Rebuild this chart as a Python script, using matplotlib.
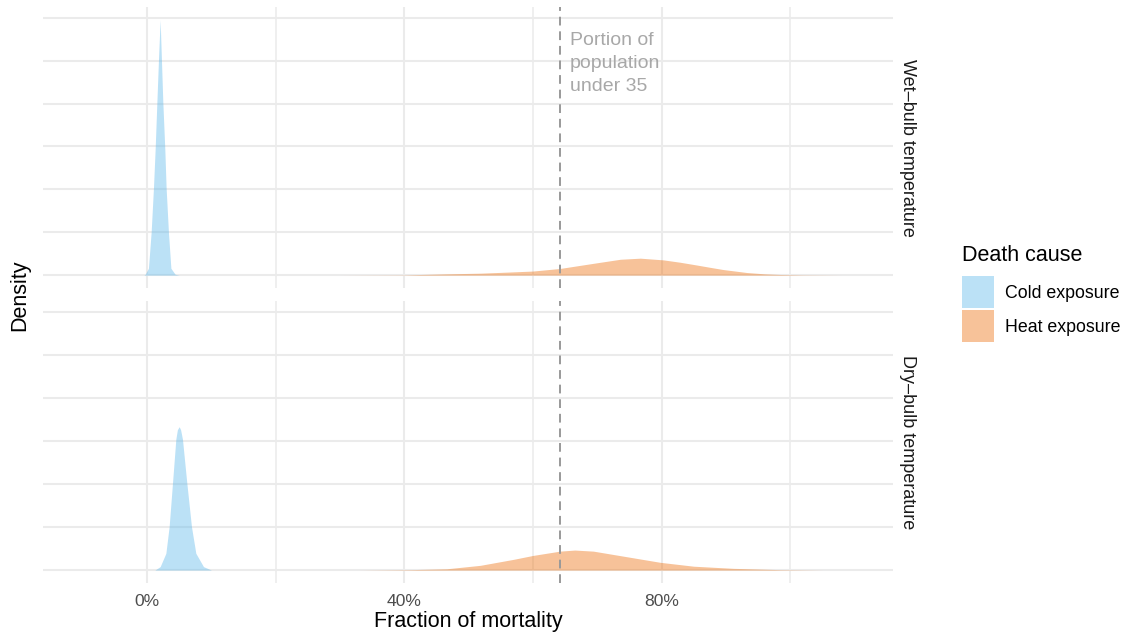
import matplotlib
matplotlib.use('Agg')
import matplotlib.pyplot as plt
from matplotlib.patches import Rectangle
import numpy as np

plt.rcParams['font.family'] = ['Liberation Sans', 'DejaVu Sans']

# density curves, x as fraction of mortality, y as density
wet_cold_x = [-0.005, -0.003, 0.002, 0.0062, 0.0098, 0.0124, 0.0151, 0.0176, 0.0202,
              0.0222, 0.0244, 0.0275, 0.0295, 0.0331, 0.0369, 0.0435, 0.05]
wet_cold_y = [0, 0.2, 1.6, 10.0, 20.3, 29.2, 40.2, 50.2, 59.5,
              50.2, 40.2, 29.2, 20.3, 10.0, 1.6, 0.2, 0]
wet_heat_x = [0.30, 0.40, 0.466, 0.518, 0.560, 0.600, 0.642, 0.694, 0.736, 0.767,
              0.803, 0.829, 0.855, 0.880, 0.896, 0.933, 0.960, 0.984, 1.02, 1.08]
wet_heat_y = [0, 0.05, 0.3, 0.45, 0.7, 0.95, 1.55, 2.75, 3.7, 3.95,
              3.55, 3.0, 2.35, 1.7, 1.3, 0.6, 0.3, 0.15, 0.05, 0]

dry_cold_x = [0.012, 0.0202, 0.0291, 0.0342, 0.0394, 0.0446, 0.047, 0.0498, 0.052,
              0.0549, 0.0617, 0.0689, 0.0757, 0.0876, 0.10]
dry_cold_y = [0, 0.8, 3.9, 10.1, 20.2, 30.4, 32.6, 33.3, 32.6,
              30.4, 20.2, 10.1, 3.9, 0.8, 0]
dry_heat_x = [0.33, 0.41, 0.466, 0.518, 0.570, 0.600, 0.642, 0.665, 0.694,
              0.746, 0.798, 0.850, 0.912, 0.984, 1.05]
dry_heat_y = [0, 0.1, 0.3, 1.1, 2.5, 3.4, 4.4, 4.65, 4.4,
              3.1, 1.8, 0.9, 0.4, 0.1, 0]

under_35 = 0.642
facets = ['Wet–bulb temperature', 'Dry–bulb temperature']
causes = ['Cold exposure', 'Heat exposure']
x_breaks = [0, 0.4, 0.8]
x_minor = [0.2, 0.6, 1.0]
y_breaks = [0, 10, 20, 30, 40, 50, 60]

cold_col = '#56B4E9'
heat_col = '#EC6800'
grid_col = '#EBEBEB'

W, H = 1125, 637
fig = plt.figure(figsize=(W / 100, H / 100), dpi=100)

def px_axes(left, top, right, bottom):
    return fig.add_axes([left / W, 1 - bottom / H, (right - left) / W, (bottom - top) / H])

ax1 = px_axes(43, 7, 893, 288)
ax2 = px_axes(43, 301, 893, 583)

panels = [(ax1, wet_cold_x, wet_cold_y, wet_heat_x, wet_heat_y),
          (ax2, dry_cold_x, dry_cold_y, dry_heat_x, dry_heat_y)]

for i, (ax, cx, cy, hx, hy) in enumerate(panels):
    ax.fill_between(cx, cy, 0, color=cold_col, alpha=0.4, lw=0, zorder=2)
    ax.fill_between(hx, hy, 0, color=heat_col, alpha=0.4, lw=0, zorder=2)
    ax.axvline(under_35, color='#999999', lw=1.4, ls=(0, (4.5, 3)), zorder=3)
    ax.set_xlim(-0.162, 1.16)
    ax.set_ylim(-3.0, 62.5)
    ax.set_xticks(x_breaks)
    ax.set_xticks(x_minor, minor=True)
    ax.set_yticks(y_breaks)
    ax.set_yticklabels([])
    ax.grid(True, which='major', color=grid_col, lw=1.5, zorder=0)
    ax.grid(True, which='minor', axis='x', color=grid_col, lw=1.1, zorder=0)
    ax.set_axisbelow(True)
    ax.tick_params(which='both', length=0)
    for s in ax.spines.values():
        s.set_visible(False)
    ax.text(1.0175, 0.5, facets[i], transform=ax.transAxes, rotation=-90,
            ha='center', va='center', fontsize=13, color='#1A1A1A')

ax1.set_xticklabels([])
ax2.set_xticklabels([f'{int(b * 100)}%' for b in x_breaks], fontsize=12.6, color='#4D4D4D')
ax2.tick_params(axis='x', pad=8)

ax1.text(under_35 + 0.015, 56.7, 'Portion of\npopulation\nunder 35', ha='left', va='top',
         fontsize=14, color='#A8A8A8', linespacing=1.45)

fig.text(20 / W, 1 - 295 / H, 'Density', rotation=90, ha='center', va='center', fontsize=15.5)
fig.text(468 / W, 1 - 622 / H, 'Fraction of mortality', ha='center', va='center', fontsize=15.5)

# legend
fig.text(962 / W, 1 - 255 / H, 'Death cause', ha='left', va='center', fontsize=15.5)
for j, (lab, col) in enumerate(zip(causes, [cold_col, heat_col])):
    top = 276 + j * 34
    fig.add_artist(Rectangle((962 / W, 1 - (top + 32) / H), 32 / W, 32 / H,
                             transform=fig.transFigure, facecolor=col, alpha=0.4, lw=0))
    fig.text(1005 / W, 1 - (top + 17) / H, lab, ha='left', va='center', fontsize=12.8)

fig.savefig('out.png', dpi=100)
